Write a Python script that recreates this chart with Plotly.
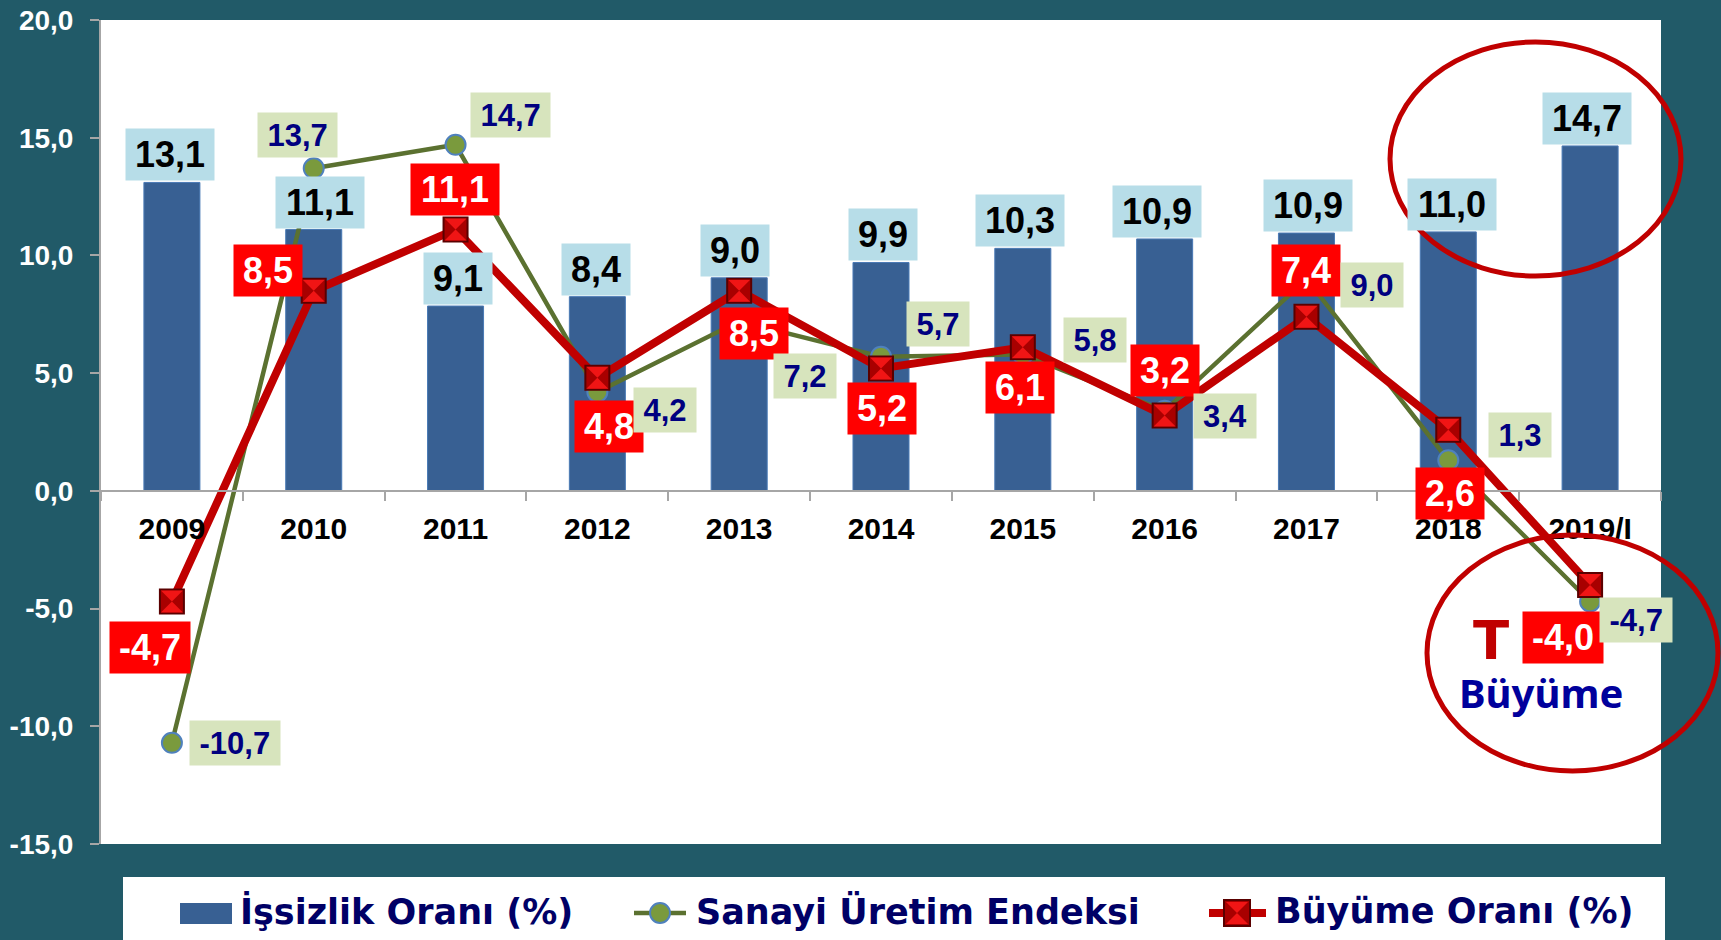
import plotly.graph_objects as go

# ---------------- data ----------------
yillar = ["2009", "2010", "2011", "2012", "2013", "2014", "2015", "2016", "2017", "2018", "2019/I"]
# unemployment rate: value written on each bar, and the bar height as drawn in the picture
issizlik_etiket = [13.1, 11.1, 9.1, 8.4, 9.0, 9.9, 10.3, 10.9, 10.9, 11.0, 14.7]
issizlik_cubuk = [13.1, 11.1, 7.85, 8.25, 9.05, 9.7, 10.3, 10.7, 10.95, 11.0, 14.65]
sanayi = [-10.7, 13.7, 14.7, 4.2, 7.2, 5.7, 5.8, 3.4, 9.0, 1.3, -4.7]
buyume = [-4.7, 8.5, 11.1, 4.8, 8.5, 5.2, 6.1, 3.2, 7.4, 2.6, -4.0]
y_ticks = [-15, -10, -5, 0, 5, 10, 15, 20]
seri_adlari = ["İşsizlik Oranı (%)", "Sanayi Üretim Endeksi", "Büyüme Oranı (%)"]

# ---------------- label placement (pixel offsets, dx right / dy down) ----------------
issizlik_dx = [-2, 6, 2, -1, -4, 2, -3, -8, 2, 4, -3]
buyume_kaydir = [(-22, 46), (-46, -20), (-1, -40), (12, 49), (15, 43), (1, 40),
                 (-3, 40), (0, -45), (0, -46), (2, 64), (-27, 52)]
sanayi_kaydir = [(63, 0), (-16, -33), (55, -30), (68, 18), (66, 55), (57, -33),
                 (72, -14), (60, 5), (66, 6), (72, -25), (46, 18)]

# ---------------- style ----------------
BG = "#215a68"
BAR = "#386093"
GREEN_LINE = "#5b7130"
GREEN_MK = "#7a9a3d"
RED_LINE = "#c00000"
NAVY = "#000080"
LEG_NAVY = "#000066"
LAB_FONT = "Liberation Sans, Arial, sans-serif"

ML, MR, MT, MB = 101, 60, 20, 96
W, H = 1721, 940
PW, PH = W - ML - MR, H - MT - MB


def px_x(px):
    return (px - ML) / PW


def px_y(py):
    return (H - MB - py) / PH


def fmt(v):
    return f"{v:.1f}".replace(".", ",")


def metin_genislik(s, size):
    w = {"-": 0.333, ",": 0.278}
    return sum(w.get(c, 0.556) for c in s) * size


fig = go.Figure()

fig.add_trace(go.Bar(
    x=yillar, y=issizlik_cubuk, name=seri_adlari[0], width=0.395,
    marker=dict(color=BAR, line=dict(color="#4a7ab5", width=1)),
    hoverinfo="skip"))

fig.add_trace(go.Scatter(
    x=yillar, y=sanayi, name=seri_adlari[1], mode="lines+markers",
    line=dict(color=GREEN_LINE, width=4.5),
    marker=dict(symbol="circle", size=20, color=GREEN_MK, line=dict(color="#4f81bd", width=2)),
    hoverinfo="skip"))

fig.add_trace(go.Scatter(
    x=yillar, y=buyume, name=seri_adlari[2], mode="lines+markers",
    line=dict(color=RED_LINE, width=8),
    marker=dict(symbol="square", size=24, color="#a80000", line=dict(color="#5a0000", width=2)),
    hoverinfo="skip"))

fig.add_trace(go.Scatter(
    x=yillar, y=buyume, mode="markers", showlegend=False,
    marker=dict(symbol="hourglass", size=22, color="#f01515", line=dict(width=0)),
    hoverinfo="skip"))

ann = []
# bar labels (x given as category index so numeric-looking years stay categorical)
for i, (h, v, dx) in enumerate(zip(issizlik_cubuk, issizlik_etiket, issizlik_dx)):
    t = fmt(v)
    ann.append(dict(x=i, y=h, xref="x", yref="y", text=f"<b>{t}</b>", showarrow=False,
                    font=dict(family=LAB_FONT, size=36, color="black"),
                    bgcolor="#b7dde8", borderpad=0, width=metin_genislik(t, 36) + 18, height=51,
                    xanchor="center", yanchor="bottom", xshift=dx, yshift=1))
# growth labels
for i, (v, (dx, dy)) in enumerate(zip(buyume, buyume_kaydir)):
    t = fmt(v)
    ann.append(dict(x=i, y=v, xref="x", yref="y", text=f"<b>{t}</b>", showarrow=False,
                    font=dict(family=LAB_FONT, size=36, color="white"),
                    bgcolor="#ff0000", borderpad=0, width=metin_genislik(t, 36) + 18, height=51,
                    xanchor="center", yanchor="middle", xshift=dx, yshift=-dy))
# industrial production labels
for i, (v, (dx, dy)) in enumerate(zip(sanayi, sanayi_kaydir)):
    t = fmt(v)
    ann.append(dict(x=i, y=v, xref="x", yref="y", text=f"<b>{t}</b>", showarrow=False,
                    font=dict(family=LAB_FONT, size=31, color=NAVY),
                    bgcolor="#d7e4bd", borderpad=0, width=metin_genislik(t, 31) + 19, height=44,
                    xanchor="center", yanchor="middle", xshift=dx, yshift=-dy))

# callout text
ann.append(dict(x=px_x(1491), y=px_y(640), xref="paper", yref="paper", text="<b>T</b>",
                showarrow=False, font=dict(family="DejaVu Sans", size=53, color="#c00000"),
                xanchor="center", yanchor="middle"))
ann.append(dict(x=px_x(1541), y=px_y(692), xref="paper", yref="paper", text="<b>Büyüme</b>",
                showarrow=False, font=dict(family="Noto Sans", size=40, color="#00009c"),
                xanchor="center", yanchor="middle"))

# custom legend texts
for xpos, name in zip([238, 694, 1273], seri_adlari):
    ann.append(dict(x=px_x(xpos), y=px_y(911), xref="paper", yref="paper", text=f"<b>{name}</b>",
                    showarrow=False, font=dict(family="DejaVu Sans", size=35, color=LEG_NAVY),
                    xanchor="left", yanchor="middle"))

shapes = [
    # callout ellipses
    dict(type="circle", xref="paper", yref="paper", x0=px_x(1390), x1=px_x(1681),
         y0=px_y(276), y1=px_y(42), line=dict(color="#c00000", width=5)),
    dict(type="circle", xref="paper", yref="paper", x0=px_x(1427), x1=px_x(1718),
         y0=px_y(771), y1=px_y(535), line=dict(color="#c00000", width=5)),
    # legend box
    dict(type="rect", xref="paper", yref="paper", x0=px_x(123), x1=px_x(1665),
         y0=px_y(950), y1=px_y(877), fillcolor="white", line=dict(width=0)),
    # legend swatches
    dict(type="rect", xref="paper", yref="paper", x0=px_x(180), x1=px_x(232),
         y0=px_y(924), y1=px_y(903), fillcolor=BAR, line=dict(width=0)),
    dict(type="line", xref="paper", yref="paper", x0=px_x(634), x1=px_x(686),
         y0=px_y(913), y1=px_y(913), line=dict(color=GREEN_LINE, width=4.5)),
    dict(type="circle", xref="paper", yref="paper", x0=px_x(650), x1=px_x(670),
         y0=px_y(923), y1=px_y(903), fillcolor=GREEN_MK, line=dict(color="#4f81bd", width=2)),
    dict(type="line", xref="paper", yref="paper", x0=px_x(1209), x1=px_x(1266),
         y0=px_y(913), y1=px_y(913), line=dict(color=RED_LINE, width=8)),
    dict(type="rect", xref="paper", yref="paper", x0=px_x(1224), x1=px_x(1250),
         y0=px_y(926), y1=px_y(900), fillcolor="#a80000", line=dict(color="#5a0000", width=2)),
    dict(type="path", xref="paper", yref="paper",
         path=(f"M{px_x(1226)},{px_y(902)} L{px_x(1248)},{px_y(902)} "
               f"L{px_x(1226)},{px_y(924)} L{px_x(1248)},{px_y(924)} Z"),
         fillcolor="#f01515", line=dict(width=0)),
]

fig.update_layout(
    width=W, height=H,
    margin=dict(l=ML, r=MR, t=MT, b=MB),
    paper_bgcolor=BG, plot_bgcolor="white",
    showlegend=False,
    annotations=ann, shapes=shapes,
    xaxis=dict(type="category", categoryorder="array", categoryarray=yillar,
               range=[-0.5, 10.5], anchor="free", position=15 / 35,
               showline=True, linecolor="#a6a6a6", linewidth=2,
               ticks="outside", tickson="boundaries", ticklen=9, tickwidth=2, tickcolor="#a6a6a6",
               tickfont=dict(family=LAB_FONT, size=30, color="black", weight="bold"),
               ticklabelstandoff=11, showgrid=False, zeroline=False, automargin=False),
    yaxis=dict(range=[-15, 20], tickvals=y_ticks, ticktext=[fmt(v) for v in y_ticks],
               showline=True, linecolor="#a6a6a6", linewidth=2,
               ticks="outside", ticklen=9, tickwidth=2, tickcolor="#a6a6a6",
               tickfont=dict(family=LAB_FONT, size=28, color="white", weight="bold"),
               ticklabelstandoff=11, showgrid=False, zeroline=False, automargin=False),
)

fig.write_html("out.html", config={"displayModeBar": False},
               post_script="document.body.style.margin='0';document.body.style.background='%s';" % BG)
